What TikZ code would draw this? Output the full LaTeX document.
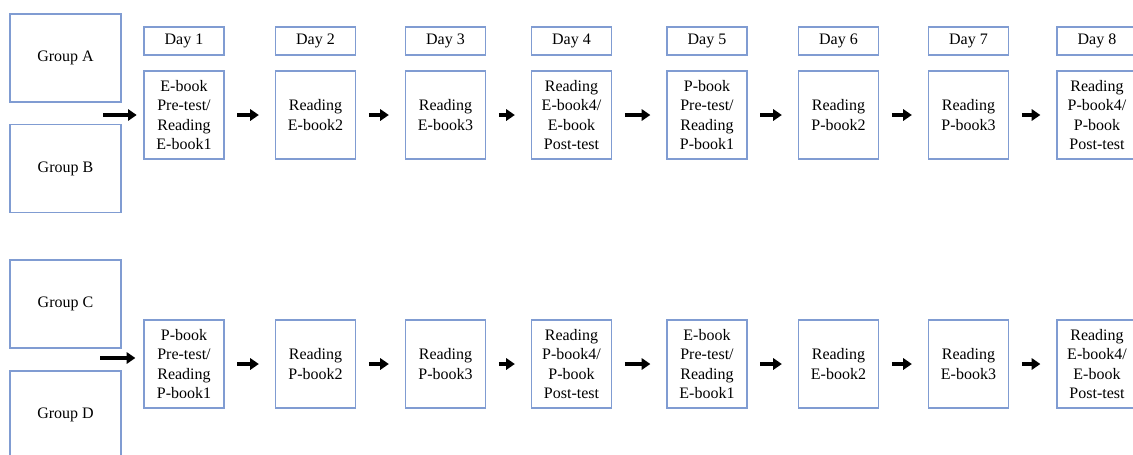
\documentclass[tikz,border=0pt]{standalone}
\usepackage{fontspec}
\setmainfont{Liberation Serif}
\usetikzlibrary{arrows.meta}
\definecolor{boxblue}{RGB}{128,156,210}
\tikzset{
  txt/.style={font=\rmfamily\fontsize{12}{14.6}\selectfont},
  grpbox/.style={txt,draw=boxblue,line width=1pt,minimum width=83.25pt,minimum height=66pt,inner sep=0pt},
  daybox/.style={txt,draw=boxblue,line width=1pt,minimum width=60pt,minimum height=21pt,inner sep=0pt},
  stepbox/.style={txt,draw=boxblue,line width=1pt,minimum width=60pt,minimum height=66pt,inner sep=0pt,align=center},
  flow/.style={line width=2.6pt,-{Triangle[length=6.5pt,width=8.5pt]}}
}
\begin{document}
\begin{tikzpicture}[x=0.75pt,y=-0.75pt]
	\useasboundingbox (0,0) rectangle (1133,454);
	\clip (0,0) rectangle (1133,454);

	% groups
	\node[grpbox] (grpA) at (65.5,58) {Group A};
	\node[grpbox] (grpB) at (65.5,168.5) {Group B};
	\node[grpbox] (grpC) at (65.5,304) {Group C};
	\node[grpbox] (grpD) at (65.5,415) {Group D};

	% days and steps
	\foreach \row/\y/\fst/\snd in {top/115/E/P,bot/364/P/E}
	  \foreach \d/\x/\t in {1/184/{\fst-book\\Pre-test/\\Reading\\\fst-book1},
	                      2/315.5/{Reading\\\fst-book2},
	                      3/445.5/{Reading\\\fst-book3},
	                      4/571.5/{Reading\\\fst-book4/\\\fst-book\\Post-test},
	                      5/707/{\snd-book\\Pre-test/\\Reading\\\snd-book1},
	                      6/838.5/{Reading\\\snd-book2},
	                      7/968.5/{Reading\\\snd-book3},
	                      8/1097/{Reading\\\snd-book4/\\\snd-book\\Post-test}}
		{\node[stepbox] (\row\d) at (\x,\y) {\t};}

	\foreach \d/\x in {1/184,2/315.5,3/445.5,4/571.5,5/707,6/838.5,7/968.5,8/1097}
		\node[daybox] (day\d) at (\x,41) {Day \d};

	\foreach \row in {top,bot}
	  \foreach \d [count=\di from 2] in {1,...,7}
		\draw[flow,shorten <=9.5pt,shorten >=12pt] (\row\d) -- (\row\di);

	\coordinate (inAB) at (103,115);
	\coordinate (inCD) at (100,358);
	\draw[flow,shorten >=5pt] (inAB) -- (inAB -| top1.west);
	\draw[flow,shorten >=6pt] (inCD) -- (inCD -| bot1.west);

\end{tikzpicture}
\end{document}
